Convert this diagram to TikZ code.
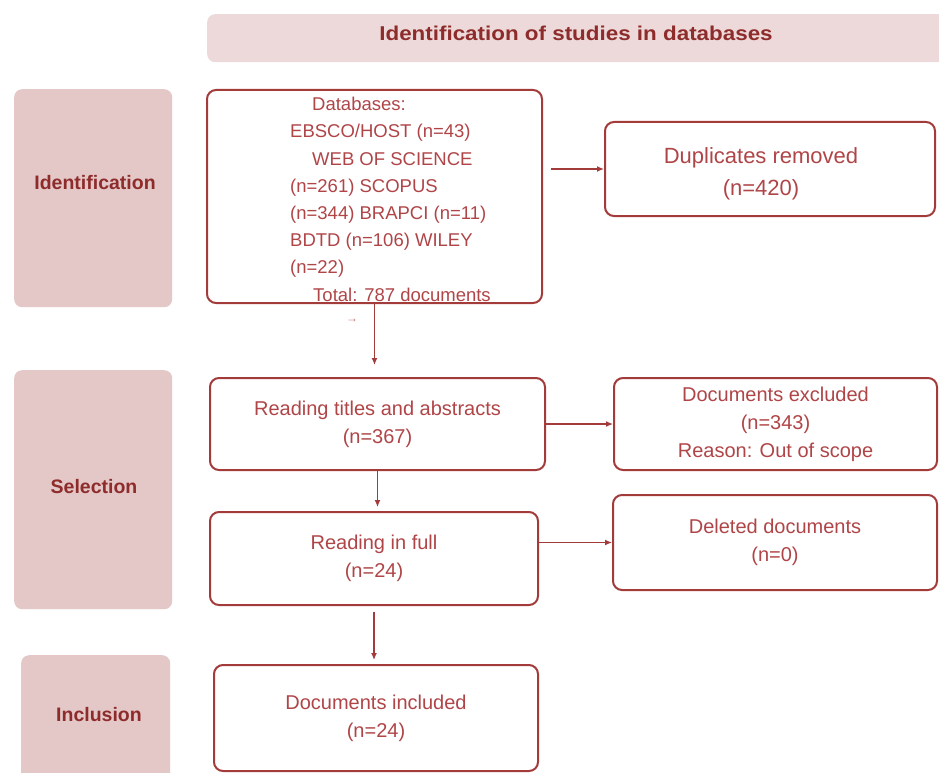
\documentclass[tikz,border=0pt]{standalone}
\usepackage{fontspec}
\setmainfont{Liberation Sans}
\newfontfamily\headfont[FakeStretch=1.12]{Liberation Sans}
\usetikzlibrary{arrows.meta}
\definecolor{frame}{HTML}{A33B3B}
\definecolor{ink}{HTML}{B04548}
\definecolor{dark}{HTML}{8E2C2C}
\definecolor{phasefill}{HTML}{E4C7C7}
\definecolor{headfill}{HTML}{EDD9D9}
\tikzset{
  box/.style={draw=frame,line width=2pt,rounded corners=9pt,fill=white,align=center,text=ink,
    font=\fontsize{20}{28}\selectfont,inner sep=0pt},
  phase/.style={fill=phasefill,rounded corners=8pt,inner sep=0pt},
  phasetext/.style={text=dark,font=\bfseries\fontsize{19.5}{24}\selectfont},
  flow/.style={draw=frame,line width=1.3pt,-{Latex[length=7pt,width=6pt]}}
}
\begin{document}
\begin{tikzpicture}[x=1pt,y=-1pt]
\useasboundingbox[fill=white] (0,0) rectangle (939,773);
%\draw[step=50,gray!30](0,0) grid (939,773);
% header and phases
\node (head) [phase,fill=headfill,anchor=north west,minimum width=760pt,minimum height=48pt] at (207,14) {};
\node (headtext) [text=dark,font=\headfont\bfseries\fontsize{20}{24}\selectfont] at (576,33) {Identification of studies in databases};
\node (idphase) [phase,anchor=north west,minimum width=158pt,minimum height=218pt] at (14,89) {};
\node (idtext) [phasetext] at (95,183) {Identification};
\node (selphase) [phase,anchor=north west,minimum width=158pt,minimum height=239pt] at (14,370) {};
\node (seltext) [phasetext] at (94,487) {Selection};
\node (incphase) [phase,anchor=north west,minimum width=149pt,minimum height=160pt] at (21,655) {};
\node (inctext) [phasetext] at (99,715) {Inclusion};
% boxes
\node (dbs) [box,minimum width=335pt,minimum height=213pt] at (374.5,196.5) {};
\node (dblist) [anchor=north west,align=left,text=ink,font=\fontsize{18.5}{27.2}\selectfont,inner sep=0pt] at (290,97)
  {\hspace*{22pt}Databases:\\EBSCO/HOST (n=43)\\\hspace*{22pt}WEB OF SCIENCE\\(n=261) SCOPUS\\(n=344) BRAPCI (n=11)\\BDTD (n=106) WILEY\\(n=22)\\\hspace*{23pt}Total: 787 documents};
\node (tick) [text=ink!70,font=\fontsize{12}{12}\selectfont] at (352,321) {→};
\node (dup) [box,minimum width=330pt,minimum height=94pt] at (770,169) {};
\node (duptext) [align=center,text=ink,font=\fontsize{22}{32}\selectfont] at (761,174) {Duplicates removed\\(n=420)};
\node (screen) [box,minimum width=335pt,minimum height=92pt] at (377.5,424) {Reading titles and abstracts\\(n=367)};
\node (excl) [box,minimum width=323pt,minimum height=92pt] at (775.5,424) {Documents excluded\\(n=343)\\Reason: Out of scope};
\node (full) [box,minimum width=328pt,minimum height=93pt] at (374,558.5) {Reading in full\\(n=24)};
\node (deleted) [box,minimum width=324pt,minimum height=95pt] at (775,542.5) {Deleted documents\\(n=0)};
\node (incl) [box,minimum width=324pt,minimum height=106pt] at (376,718) {Documents included\\(n=24)};
% arrows
\draw[flow] ([xshift=8pt]dbs.east |- dup.west) -- (dup.west);
\draw[flow,shorten >=12pt] (dbs.south) -- (dbs.south |- screen.north);
\draw[flow] (screen.east) -- (excl.west);
\draw[flow,shorten >=4pt] (screen.south) -- (screen.south |- full.north);
\draw[flow] (full.east |- deleted.west) -- (deleted.west);
\draw[flow,shorten <=6pt,shorten >=4pt] (full.south) -- (full.south |- incl.north);
\end{tikzpicture}
\end{document}
